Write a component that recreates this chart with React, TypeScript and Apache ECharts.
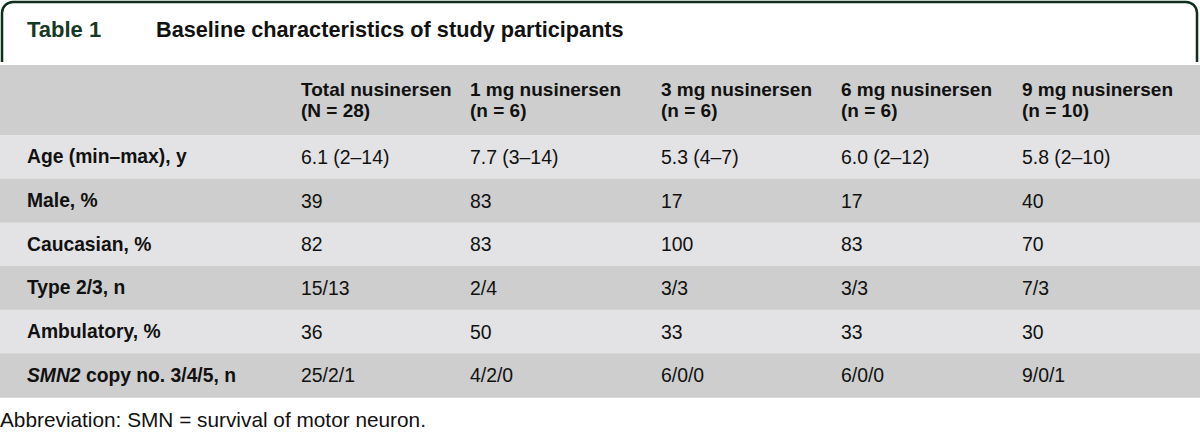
import React, { useEffect, useRef } from "react";
import * as echarts from "echarts";

const tableNumber = "Table 1";
const tableTitle = "Baseline characteristics of study participants";
const columnHeaders = [
  ["Total nusinersen", "(N = 28)"],
  ["1 mg nusinersen", "(n = 6)"],
  ["3 mg nusinersen", "(n = 6)"],
  ["6 mg nusinersen", "(n = 6)"],
  ["9 mg nusinersen", "(n = 10)"],
];
const rowLabels = [
  "Age (min–max), y",
  "Male, %",
  "Caucasian, %",
  "Type 2/3, n",
  "Ambulatory, %",
  "SMN2 copy no. 3/4/5, n",
];
const totalValues = ["6.1 (2–14)", "39", "82", "15/13", "36", "25/2/1"];
const mg1Values = ["7.7 (3–14)", "83", "83", "2/4", "50", "4/2/0"];
const mg3Values = ["5.3 (4–7)", "17", "100", "3/3", "33", "6/0/0"];
const mg6Values = ["6.0 (2–12)", "17", "83", "3/3", "33", "6/0/0"];
const mg9Values = ["5.8 (2–10)", "40", "70", "7/3", "30", "9/0/1"];
const footnote = "Abbreviation: SMN = survival of motor neuron.";

const FONT = "Liberation Sans";

export default function App() {
  const ref = useRef<HTMLDivElement>(null);
  useEffect(() => {
    document.body.style.margin = "0";
    const chart = echarts.init(ref.current!, null, { renderer: "svg" });
    const colX = [27, 301, 470, 661, 841, 1022];
    const headerTop = 65;
    const headerBottom = 135;
    const rowH = 43.7;
    const valueCols = [totalValues, mg1Values, mg3Values, mg6Values, mg9Values];
    const elements: any[] = [];

    elements.push({
      type: "rect",
      shape: { x: 2, y: 2, width: 1195, height: 80, r: [11, 11, 0, 0] },
      style: { fill: "#ffffff", stroke: "#0f2e1c", lineWidth: 2.5 },
    });
    elements.push({
      type: "rect",
      shape: { x: 0, y: 62, width: 1200, height: 30 },
      style: { fill: "#ffffff" },
    });
    elements.push({
      type: "text",
      x: 27,
      y: 29.5,
      style: {
        text: tableNumber,
        font: `bold 22px "${FONT}"`,
        fill: "#143a25",
        verticalAlign: "middle",
      },
    });
    elements.push({
      type: "text",
      x: 156,
      y: 29.5,
      style: {
        text: tableTitle,
        font: `bold 21.7px "${FONT}"`,
        fill: "#111111",
        verticalAlign: "middle",
      },
    });
    elements.push({
      type: "rect",
      shape: { x: 0, y: headerTop, width: 1200, height: headerBottom - headerTop },
      style: { fill: "#cdcecd" },
    });
    columnHeaders.forEach((lines, i) => {
      elements.push({
        type: "text",
        x: colX[i + 1],
        y: 100,
        style: {
          text: lines.join("\n"),
          font: `bold 19px "${FONT}"`,
          lineHeight: 21.4,
          fill: "#111111",
          verticalAlign: "middle",
        },
      });
    });
    rowLabels.forEach((label, r) => {
      const y0 = headerBottom + r * rowH;
      elements.push({
        type: "rect",
        shape: { x: 0, y: y0, width: 1200, height: rowH + 0.5 },
        style: { fill: r % 2 === 0 ? "#e3e3e5" : "#cdcecd" },
      });
      const cy = y0 + rowH / 2;
      if (label.startsWith("SMN2")) {
        elements.push({
          type: "text",
          x: colX[0],
          y: cy,
          style: {
            text: "{i|SMN2}{b| copy no. 3/4/5, n}",
            verticalAlign: "middle",
            rich: {
              i: { font: `italic bold 19.3px "${FONT}"`, fill: "#111111" },
              b: { font: `bold 19.3px "${FONT}"`, fill: "#111111" },
            },
          },
        });
      } else {
        elements.push({
          type: "text",
          x: colX[0],
          y: cy,
          style: {
            text: label,
            font: `bold 19.3px "${FONT}"`,
            fill: "#111111",
            verticalAlign: "middle",
          },
        });
      }
      valueCols.forEach((vals, c) => {
        elements.push({
          type: "text",
          x: colX[c + 1],
          y: cy,
          style: {
            text: vals[r],
            font: `19.4px "${FONT}"`,
            fill: "#111111",
            verticalAlign: "middle",
          },
        });
      });
    });
    elements.push({
      type: "text",
      x: 0,
      y: 419,
      style: {
        text: footnote,
        font: `20.8px "${FONT}"`,
        fill: "#111111",
        verticalAlign: "middle",
      },
    });

    chart.setOption({ animation: false, graphic: { elements } });
    return () => chart.dispose();
  }, []);
  return <div ref={ref} style={{ width: 1200, height: 436 }} />;
}
